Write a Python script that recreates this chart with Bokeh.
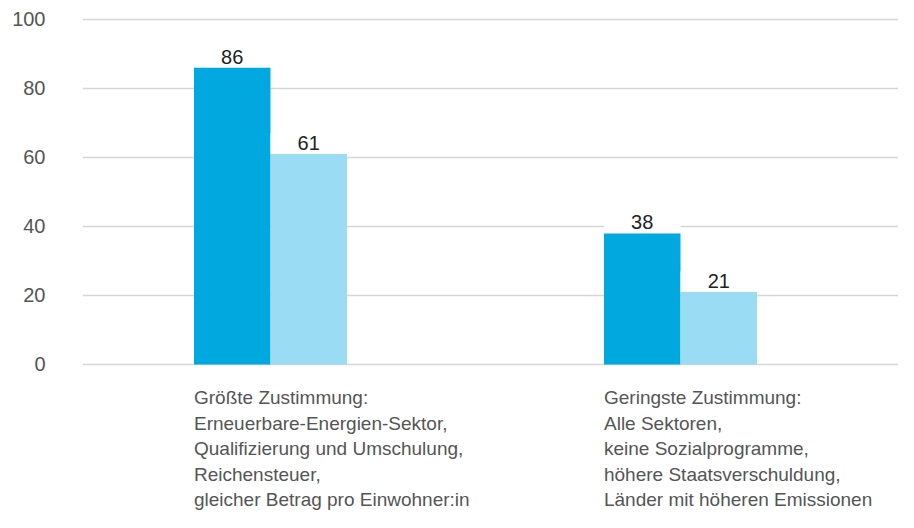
import numpy as np
from bokeh.plotting import figure
from bokeh.models import Range1d, FixedTicker, ColumnDataSource
from bokeh.core.properties import value
from bokeh.embed import file_html
from bokeh.resources import INLINE

# ---- data ----
category_lines = [
    ["Größte Zustimmung:", "Erneuerbare-Energien-Sektor,", "Qualifizierung und Umschulung,",
     "Reichensteuer,", "gleicher Betrag pro Einwohner:in"],
    ["Geringste Zustimmung:", "Alle Sektoren,", "keine Sozialprogramme,",
     "höhere Staatsverschuldung,", "Länder mit höheren Emissionen"],
]
series_dark = [86, 38]
series_light = [61, 21]
y_ticks = [0, 20, 40, 60, 80, 100]

# ---- styling ----
FONT = "Liberation Sans"
DARK = "#00a8e0"
LIGHT = "#9adcf3"
BW = 0.1866

xs = np.arange(len(series_dark), dtype=float)

p = figure(width=898, height=512, output_backend="svg", toolbar_location=None,
           x_range=Range1d(-0.4585, 1.5317), y_range=Range1d(-42.9, 105.5),
           x_axis_location=None,
           min_border_left=82, min_border_right=0, min_border_top=0, min_border_bottom=0)
p.outline_line_color = None
p.background_fill_color = "white"
p.border_fill_color = "white"

p.xgrid.grid_line_color = None
p.ygrid.ticker = FixedTicker(ticks=y_ticks)
p.ygrid.grid_line_color = "#d6d6d6"
p.ygrid.grid_line_width = 1.5

ax = p.yaxis[0]
ax.ticker = FixedTicker(ticks=y_ticks)
ax.axis_line_color = None
ax.major_tick_line_color = None
ax.minor_tick_line_color = None
ax.major_tick_out = 0
ax.major_tick_in = 0
ax.major_label_standoff = 37
ax.major_label_text_font = FONT
ax.major_label_text_font_size = "20px"
ax.major_label_text_color = "#555555"

dark_x = xs - BW / 2
light_x = xs + BW / 2

src_d = ColumnDataSource(dict(x=dark_x, top=series_dark, lbl=[str(v) for v in series_dark],
                              box_top=[v + 6 for v in series_dark]))
src_l = ColumnDataSource(dict(x=light_x, top=series_light, lbl=[str(v) for v in series_light],
                              box_top=[v + 6 for v in series_light]))

for src, col in ((src_d, DARK), (src_l, LIGHT)):
    # white label backdrop (hides gridline behind value label)
    p.vbar(x="x", bottom="top", top="box_top", width=BW, source=src,
           fill_color="white", line_color=None)
    p.vbar(x="x", top="top", bottom=0, width=BW, source=src,
           fill_color=col, line_color=None)
    p.text(x="x", y="top", text="lbl", source=src, text_align="center",
           text_baseline="alphabetic", y_offset=-11, text_font=value(FONT),
           text_font_size="20px", text_color="#222222")

cat_src = ColumnDataSource(dict(x=xs - BW, y=[0] * len(xs),
                                txt=["\n".join(lines) for lines in category_lines]))
p.text(x="x", y="y", text="txt", source=cat_src, text_align="left",
       text_baseline="top", y_offset=23, text_font=value(FONT),
       text_font_size="19px", text_color="#555555", text_line_height=1.212)

open("out.html", "w").write(file_html(p, INLINE))
